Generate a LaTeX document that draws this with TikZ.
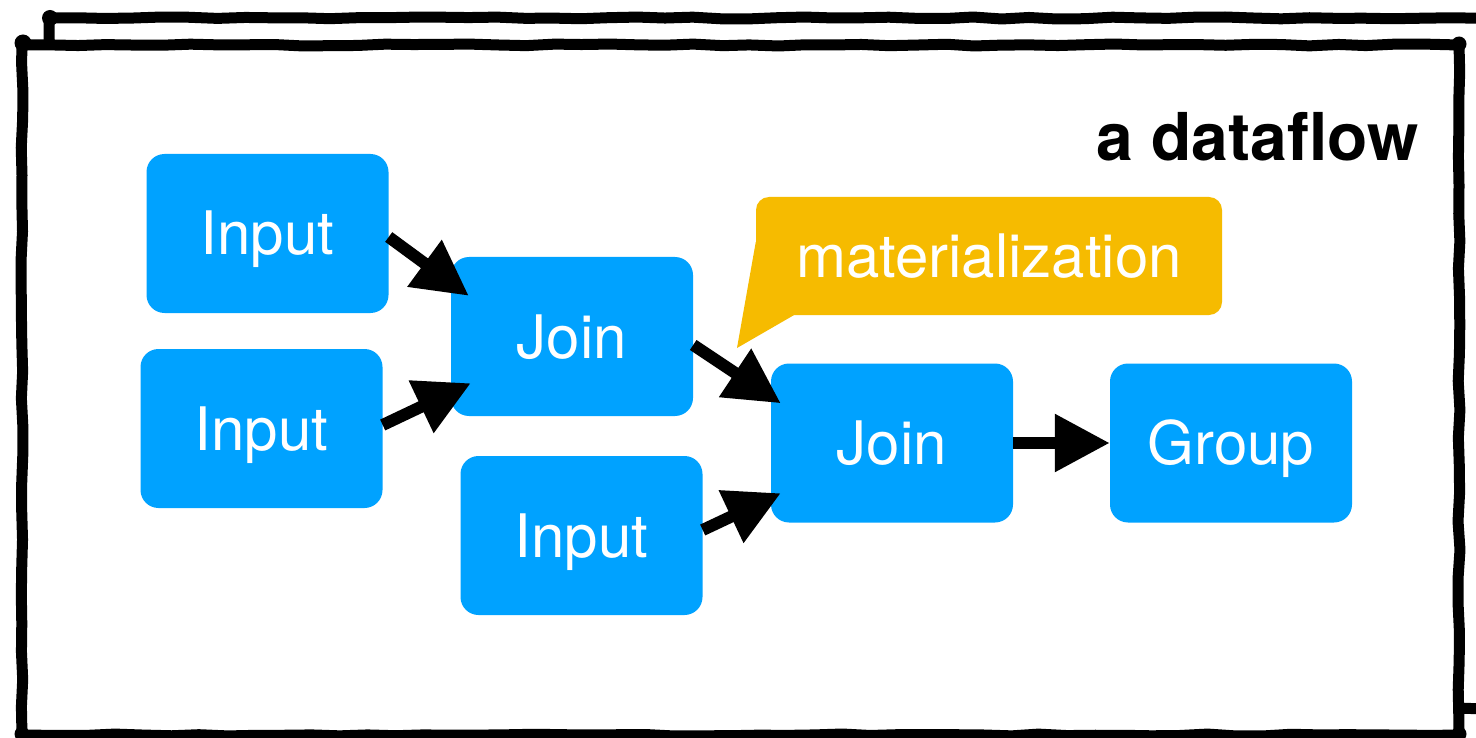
\documentclass[tikz,border=0pt]{standalone}
\usepackage{fontspec}
\setmainfont{TeX Gyre Heros}
\usetikzlibrary{arrows.meta,calc,decorations.pathmorphing}
\definecolor{nodeblue}{HTML}{00A2FF}
\definecolor{callamber}{HTML}{F6BB00}
\begin{document}
\begin{tikzpicture}[x=1pt,y=-1pt,
  opbox/.style={fill=nodeblue, text=white, rounded corners=18pt, minimum width=242pt, minimum height=159pt, inner sep=0pt, text height=43pt, text depth=0pt, font=\fontsize{60}{72}\selectfont},
  callout/.style={fill=callamber, text=white, rounded corners=13pt, minimum width=466pt, minimum height=118pt, inner sep=0pt, text height=43pt, text depth=0pt, font=\fontsize{60}{72}\selectfont},
  flow/.style={line width=12pt, -{Triangle[length=55pt,width=55pt]}},
  frame/.style={line width=11pt, line join=round, decorate, decoration={random steps, segment length=28pt, amplitude=1pt}},
  blob/.style={fill=black}]
\pgfmathsetseed{7}
\useasboundingbox (0,0) rectangle (1476,738);
\begin{scope}
\clip (0,0) rectangle (1476,738);
\draw[frame] (49,18) -- (1530,18) -- (1530,708) -- (1455,708) (49,18) -- (49,60);
\fill[blob] (50,18) circle (8);
\fill[white] (22,45) rectangle (1459,735);
\draw[frame] (22,45) -- (1459,45) -- (1459,735) -- (22,735) -- cycle;
\fill[blob] (23,43) circle (8.5);
\fill[blob] (1459,44) circle (7.5);
\fill[blob] (1459,734) circle (7.5);
\fill[blob] (22,734) circle (7.5);
\end{scope}
% title
\node[anchor=base east, inner sep=0pt, font=\bfseries\fontsize{66}{72}\selectfont] (title) at (1419,161) {a dataflow};
% operators
\node[opbox] (in1) at (267.5,233.5) {Input};
\node[opbox] (in2) at (261.5,428.5) {Input};
\node[opbox] (in3) at (581.5,535.5) {Input};
\node[opbox] (j1) at (572,336.5) {Join};
\node[opbox] (j2) at (892,443) {Join};
\node[opbox] (grp) at (1231,443) {Group};
% callout
\node[callout] (mat) at (989,256) {materialization};
\coordinate (tailtip) at (737,348);
\fill[callamber] ([shift={(0,45)}]mat.north west) -- (tailtip) -- ([shift={(38,0)}]mat.south west) -- ([shift={(38,-20)}]mat.south west) -- ([shift={(0,-20)}]mat.south west) -- cycle;
% connectors
\draw[flow] ([shift={(0,3.5)}]in1.east) -- ([shift={(18,39)}]j1.north west);
\draw[flow] ([shift={(0,-3.5)}]in2.east) -- ([shift={(20,-33)}]j1.south west);
\draw[flow] ([shift={(0,8.5)}]j1.east) -- ([shift={(10,40)}]j2.north west);
\draw[flow] ([shift={(0,-5.5)}]in3.east) -- ([shift={(10,-29.5)}]j2.south west);
\draw[flow] (j2.east) -- (grp.west);
\end{tikzpicture}
\end{document}
